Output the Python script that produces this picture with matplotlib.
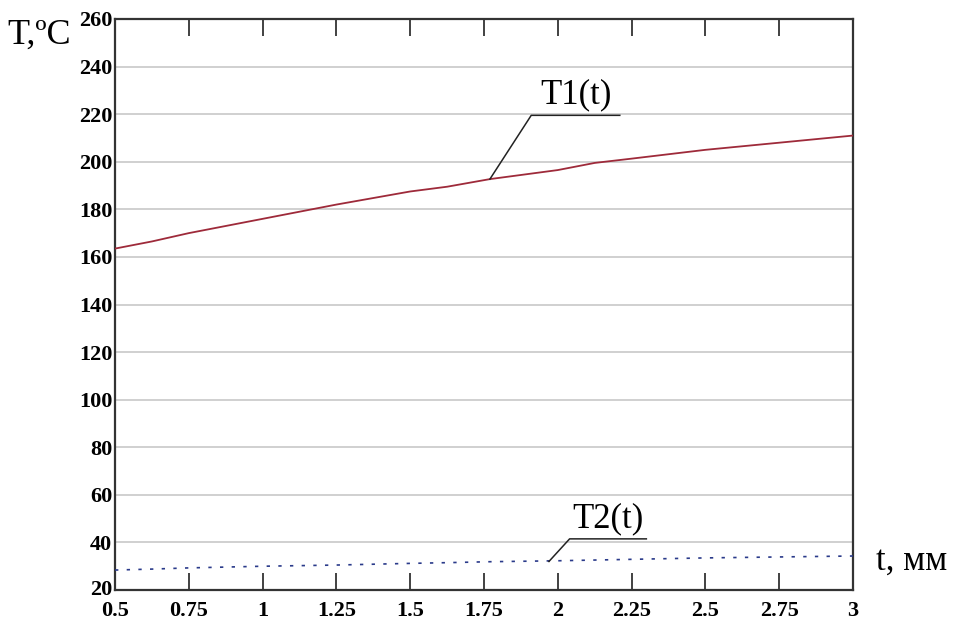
import matplotlib
matplotlib.use("Agg")
import matplotlib.pyplot as plt
import matplotlib.transforms as mtransforms
import numpy as np

# Thickness t, mm
t_vals = [0.5, 0.625, 0.75, 1.0, 1.25, 1.5, 1.625, 1.77, 2.0, 2.125, 2.25, 2.5, 2.75, 3.0]
# Temperature of the first surface, °C
T1_vals = [163.5, 166.5, 170.0, 176.0, 182.0, 187.5, 189.5, 192.7, 196.5, 199.5, 201.3, 205.0, 208.0, 211.0]
# Temperature of the second surface, °C
T2_vals = [28.4, 28.8, 29.3, 30.0, 30.5, 31.2, 31.5, 31.9, 32.3, 32.6, 32.9, 33.5, 33.9, 34.3]

x_ticks = [0.5, 0.75, 1, 1.25, 1.5, 1.75, 2, 2.25, 2.5, 2.75, 3]
x_labels = ["0.5", "0.75", "1", "1.25", "1.5", "1.75", "2", "2.25", "2.5", "2.75", "3"]
y_ticks = list(range(20, 261, 20))

serif = ["Liberation Serif", "DejaVu Serif"]

fig = plt.figure(figsize=(9.57, 6.22), dpi=100)
ax = fig.add_axes([0.1202, 0.0514, 0.7711, 0.9181])

ax.set_xlim(0.5, 3)
ax.set_ylim(20, 260)

for y in y_ticks[1:-1]:
    ax.axhline(y, color="#c4c4c4", lw=1.1, zorder=1)

ax.plot(t_vals, T1_vals, color="#9e2a3a", lw=1.3, zorder=3)
ax.plot(t_vals, T2_vals, color="#2a3a8a", lw=1.2, ls=(0, (2, 5)), zorder=3)

for s in ax.spines.values():
    s.set_color("#333333")
    s.set_linewidth(1.6)

ax.set_xticks(x_ticks)
ax.set_xticklabels(x_labels)
ax.set_yticks(y_ticks)
ax.tick_params(axis="x", direction="in", length=12, width=1.3, color="#333333",
               top=True, pad=8)
ax.tick_params(axis="y", length=0, pad=2)
for lab in ax.get_xticklabels() + ax.get_yticklabels():
    lab.set_fontfamily(serif)
    lab.set_fontweight("bold")
    lab.set_fontsize(16)
# lift the lowest y label slightly so it clears the first x label
ylabs = ax.get_yticklabels()
ylabs[0].set_transform(ylabs[0].get_transform() +
                       mtransforms.ScaledTranslation(0, 3 / 100, fig.dpi_scale_trans))
# hide tick marks at the plot edges
for tk in ax.xaxis.get_major_ticks():
    if tk.get_loc() in (0.5, 3):
        tk.tick1line.set_visible(False)
        tk.tick2line.set_visible(False)

# Axis captions
fig.text(0.008, 0.943, "T,ºC", fontsize=26, family=serif, ha="left", va="center")
fig.text(0.915, 0.098, "t, мм", fontsize=25, family=serif, ha="left", va="center")

# Curve labels with leader lines
def curve_label(text, xp, yp, xk, yk, xe, size=25):
    ax.plot([xp, xk, xe], [yp, yk, yk], color="#222222", lw=1.1, zorder=4,
            clip_on=False)
    ax.text((xk + xe) / 2, yk + 1.5, text, fontsize=size, family=serif,
            ha="center", va="bottom")

curve_label("T1(t)", 1.77, 192.7, 1.91, 219.5, 2.21)
curve_label("T2(t)", 1.97, 32.0, 2.04, 41.5, 2.3)

fig.savefig("out.png", dpi=100)
